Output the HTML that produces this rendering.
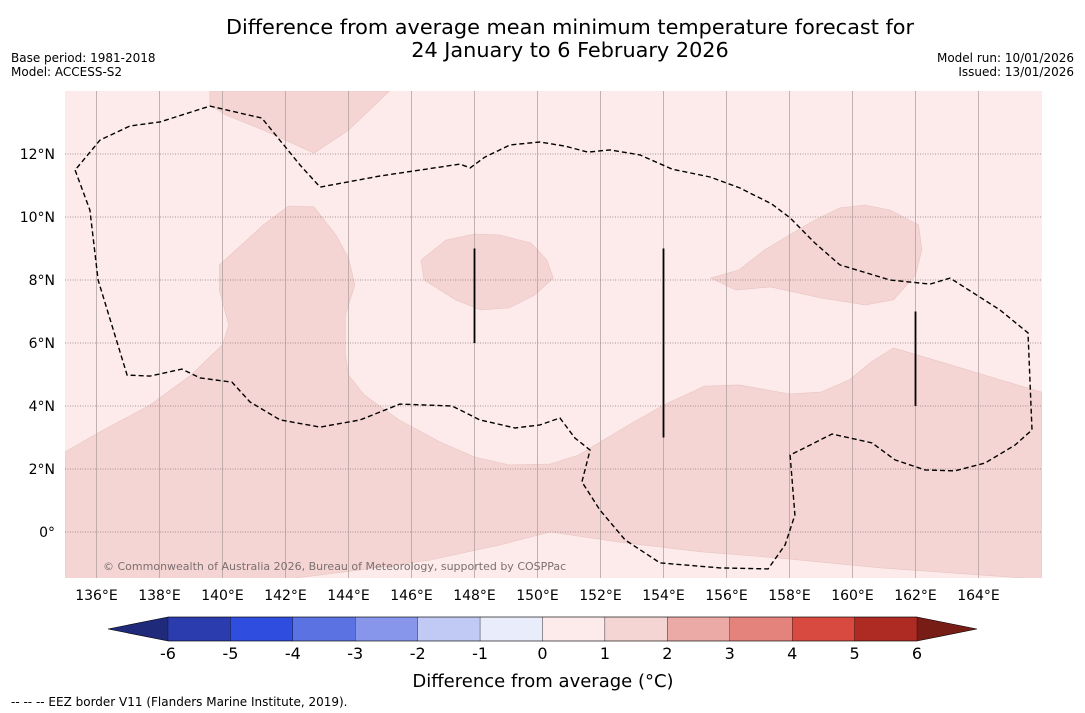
<!DOCTYPE html>
<html><head><meta charset="utf-8"><style>
html,body{margin:0;padding:0;background:#fff;}
svg{display:block;font-family:"DejaVu Sans","Liberation Sans",sans-serif;}
</style></head><body>
<svg id="chart" width="1085" height="713" viewBox="0 0 1085 713">
<text x="570" y="34" font-size="20.8" text-anchor="middle">Difference from average mean minimum temperature forecast for</text>
<text x="570" y="57" font-size="20.8" text-anchor="middle">24 January to 6 February 2026</text>
<text x="11" y="62" font-size="12">Base period: 1981-2018</text>
<text x="11" y="76" font-size="12">Model: ACCESS-S2</text>
<text x="1074" y="62" font-size="12" text-anchor="end">Model run: 10/01/2026</text>
<text x="1074" y="76" font-size="12" text-anchor="end">Issued: 13/01/2026</text>
<g id="map"></g>
<g id="cbar"></g>
<text x="543" y="687" font-size="18" text-anchor="middle">Difference from average (°C)</text>
<text x="11" y="706" font-size="12">--  --  -- EEZ border V11 (Flanders Marine Institute, 2019).</text>
</svg>
<script>
const lonTicks=[136,138,140,142,144,146,148,150,152,154,156,158,160,162,164];
const latTicks=[0,2,4,6,8,10,12];
const polyA=[[135.0,2.54],[136.1,3.17],[137.7,4.03],[139.0,4.98],[140.0,5.94],[140.2,6.57],[139.9,7.68],[139.9,8.48],[140.6,9.11],[141.3,9.75],[142.1,10.35],[142.9,10.32],[143.6,9.43],[144.0,8.70],[144.2,7.84],[143.9,6.89],[143.9,5.62],[144.0,4.98],[144.5,4.35],[145.6,3.56],[146.9,2.86],[148.0,2.38],[149.1,2.13],[150.4,2.16],[151.3,2.44],[152.1,2.92],[152.9,3.40],[154.0,4.03],[155.3,4.63],[156.4,4.67],[158.0,4.38],[159.0,4.44],[159.9,4.83],[160.6,5.40],[161.3,5.84],[162.8,5.40],[164.7,4.83],[166.0,4.44],[166.0,-1.5],[160.9,-1.14],[157.7,-0.83],[155.2,-0.63],[152.6,-0.32],[150.4,0.0],[148.8,-0.41],[146.6,-0.89],[144.4,-1.2],[142.0,-1.5],[135.0,-1.5]];
const polyB=[[139.6,14],[145.3,14],[144.0,12.76],[142.9,12.03],[141.3,12.76],[140.1,13.24],[139.6,13.56]];
const polyC=[[146.3,8.63],[147.1,9.27],[148.0,9.46],[148.8,9.43],[149.8,9.17],[150.3,8.63],[150.5,8.06],[149.9,7.52],[149.1,7.11],[148.2,7.05],[147.4,7.37],[146.4,8.0]];
const polyD=[[155.5,8.06],[156.4,8.32],[157.2,8.95],[158.0,9.43],[158.8,9.90],[159.6,10.29],[160.4,10.38],[161.2,10.22],[162.1,9.75],[162.2,8.95],[162.0,8.16],[161.3,7.37],[160.4,7.21],[159.0,7.43],[157.4,7.78],[156.3,7.68]];
const eez=[[135.32,11.49],[135.79,10.22],[136.05,8.0],[136.97,4.98],[137.70,4.95],[138.71,5.17],[139.29,4.89],[140.30,4.76],[140.87,4.13],[141.83,3.56],[143.10,3.33],[144.37,3.56],[145.63,4.06],[147.29,4.0],[148.17,3.56],[149.29,3.30],[150.08,3.40],[150.71,3.62],[151.19,2.98],[151.67,2.6],[151.41,1.59],[151.98,0.70],[152.78,-0.25],[153.89,-0.98],[155.79,-1.14],[157.32,-1.17],[157.86,-0.41],[158.17,0.54],[158.02,2.44],[158.65,2.76],[159.35,3.11],[160.62,2.83],[161.35,2.29],[162.30,1.97],[163.25,1.94],[164.21,2.19],[165.16,2.76],[165.70,3.24],[165.57,6.32],[164.68,7.05],[163.10,8.06],[162.46,7.87],[161.19,8.0],[159.60,8.48],[158.81,9.17],[158.02,9.97],[157.44,10.41],[156.43,10.92],[155.48,11.27],[154.27,11.52],[153.25,11.97],[152.30,12.13],[151.60,12.06],[150.87,12.25],[150.08,12.38],[149.13,12.29],[148.33,11.90],[147.86,11.56],[147.54,11.68],[145.0,11.30],[143.10,10.95],[142.46,11.65],[141.25,13.14],[139.60,13.52],[138.02,13.02],[137.06,12.89],[136.11,12.44],[135.32,11.49]];
const segLon=[148,154,162];
const segLat0=[6,3,4];
const segLat1=[9,9,7];
const cbLevels=[-6,-5,-4,-3,-2,-1,0,1,2,3,4,5,6];
const cbColors=["#2a3cae","#2f4ee0","#5b72e2","#8796ea","#c1c9f5","#e9ecfb","#fcebea","#f5d5d3","#ebaaa5","#e4837c","#d84a40","#ae2b24"];

const NS="http://www.w3.org/2000/svg";
const X0=65,X1=1042,Y0=91,Y1=578,LON0=135,LAT1=14,K=31.5;
const px=lon=>X0+(lon-LON0)*K;
const py=lat=>Y0+(LAT1-lat)*K;
function mk(tag,attrs,parent){const e=document.createElementNS(NS,tag);for(const k in attrs)e.setAttribute(k,attrs[k]);parent.appendChild(e);return e;}
const map=document.getElementById('map');
const clip=mk('clipPath',{id:'mc'},map);mk('rect',{x:X0,y:Y0,width:X1-X0,height:Y1-Y0},clip);
const g=mk('g',{'clip-path':'url(#mc)'},map);
let bg=mk('rect',{x:X0,y:Y0,width:X1-X0,height:Y1-Y0,fill:'#fcebea'},g);


const pts=a=>a.map(p=>px(p[0]).toFixed(1)+','+py(p[1]).toFixed(1)).join(' ');
[[polyA,'anomaly-region-south'],[polyB,'anomaly-region-north'],[polyC,'anomaly-region-central'],[polyD,'anomaly-region-east']].forEach(([p,n])=>{
  const e=mk('polygon',{points:pts(p),fill:'#f5d5d3',stroke:'#e8c4c2','stroke-width':0.6},g);
  
  
});
lonTicks.forEach(l=>{
  const e=mk('line',{x1:px(l),x2:px(l),y1:Y0,y2:Y1,stroke:'#a89a9a','stroke-width':0.7},g);
  
  
  const t=mk('text',{x:px(l),y:600,'font-size':14,'text-anchor':'middle'},map);t.textContent=l+'°E';
  
  
});
latTicks.forEach(l=>{
  const e=mk('line',{x1:X0,x2:X1,y1:py(l),y2:py(l),stroke:'#8a7a7a','stroke-width':0.7,'stroke-dasharray':'1,1.5'},g);
  
  
  const t=mk('text',{x:55,y:py(l)+5,'font-size':14,'text-anchor':'end'},map);t.textContent=l===0?'0°':l+'°N';
  
  
});
let eezP=mk('polyline',{points:pts(eez),fill:'none',stroke:'#000','stroke-width':1.4,'stroke-dasharray':'5,3'},g);


segLon.forEach((l,i)=>{
  const e=mk('line',{x1:px(l),x2:px(l),y1:py(segLat0[i]),y2:py(segLat1[i]),stroke:'#000','stroke-width':1.8},g);
  
  
});
let cp=mk('text',{x:103,y:570,'font-size':11,fill:'#7a7070'},g);cp.textContent='© Commonwealth of Australia 2026, Bureau of Meteorology, supported by COSPPac';



const cb=document.getElementById('cbar');
const CX0=168,CX1=917,CY0=617,CY1=641;
const cx=v=>CX0+(v-cbLevels[0])/(cbLevels[cbLevels.length-1]-cbLevels[0])*(CX1-CX0);
let la=mk('polygon',{points:`108,629 ${CX0},${CY0} ${CX0},${CY1}`,fill:'#1f2a7a'},cb);


let ra=mk('polygon',{points:`977,629 ${CX1},${CY0} ${CX1},${CY1}`,fill:'#781c16'},cb);


cbColors.forEach((c,i)=>{
  const e=mk('rect',{x:cx(cbLevels[i]),y:CY0,width:cx(cbLevels[i+1])-cx(cbLevels[i]),height:CY1-CY0,fill:c,stroke:'#000','stroke-width':0.3},cb);
  
  
});
mk('polygon',{points:`108,629 ${CX0},${CY0} ${CX1},${CY0} 977,629 ${CX1},${CY1} ${CX0},${CY1}`,fill:'none',stroke:'#000','stroke-width':0.6},cb);
cbLevels.forEach(v=>{
  const t=mk('text',{x:cx(v),y:659,'font-size':16,'text-anchor':'middle'},cb);t.textContent=v;
  
  
});
</script>
</body></html>
